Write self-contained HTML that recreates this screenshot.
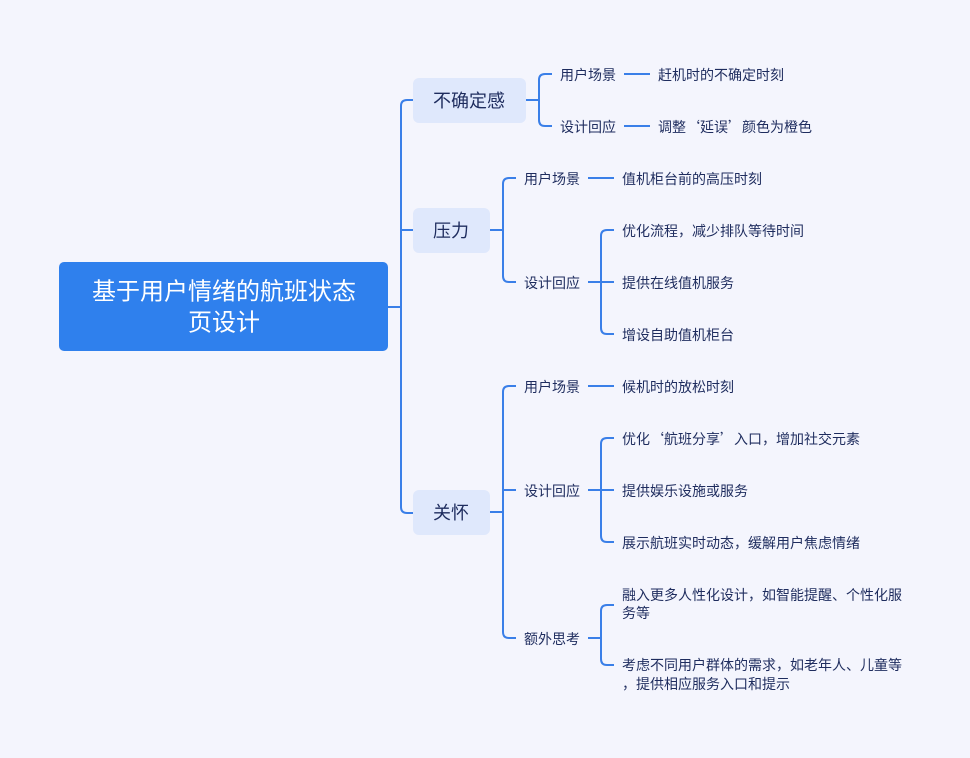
<!DOCTYPE html>
<html><head><meta charset="utf-8"><style>
body{margin:0;background:#f4f5fd;}
svg{display:block}
text{font-family:"Liberation Sans","Noto Sans CJK SC",sans-serif;fill:#1e2c5e;dominant-baseline:central}
.s{font-size:14px}
.q{font-family:"Noto Sans CJK SC",sans-serif}
</style></head><body>
<svg width="970" height="758" viewBox="0 0 970 758">
<rect width="970" height="758" fill="#f4f5fd"/>
<g fill="none" stroke="#3a7fe8" stroke-width="2">
<path d="M388 307H401M401 230H413M407 100H413M407 513H413"/>
<path d="M407 100Q401 100 401 106V507Q401 513 407 513"/>
<path d="M526 100H539M545 74Q539 74 539 80V120Q539 126 545 126H552M545 74H552"/>
<path d="M624 74H650M624 126H650"/>
<path d="M490 230H503M509 178Q503 178 503 184V276Q503 282 509 282H516M509 178H516"/>
<path d="M588 178H614M588 282H614"/>
<path d="M607 230Q601 230 601 236V328Q601 334 607 334H614M607 230H614"/>
<path d="M490 512H503M509 386Q503 386 503 392V632Q503 638 509 638H516M509 386H516M503 490H516"/>
<path d="M588 386H614M588 490H614"/>
<path d="M607 438Q601 438 601 444V536Q601 542 607 542H614M607 438H614"/>
<path d="M588 638H601M607 605Q601 605 601 611V659Q601 665 607 665H614M607 605H614"/>
</g>
<rect x="59" y="262" width="329" height="89" rx="5" fill="#2f80ed"/>
<text x="224" y="292" text-anchor="middle" style="font-size:24px;fill:#fff">基于用户情绪的航班状态</text>
<text x="224" y="323" text-anchor="middle" style="font-size:24px;fill:#fff">页设计</text>
<rect x="413" y="78" width="113" height="45" rx="6" fill="#dfe8fc"/>
<text x="469" y="101" text-anchor="middle" style="font-size:18px">不确定感</text>
<rect x="413" y="208" width="77" height="45" rx="6" fill="#dfe8fc"/>
<text x="451" y="231" text-anchor="middle" style="font-size:18px">压力</text>
<rect x="413" y="490" width="77" height="45" rx="6" fill="#dfe8fc"/>
<text x="451" y="513" text-anchor="middle" style="font-size:18px">关怀</text>
<text class="s" x="560" y="75">用户场景</text>
<text class="s" x="560" y="127">设计回应</text>
<text class="s" x="658" y="75">赶机时的不确定时刻</text>
<text class="s q" x="658" y="127">调整‘延误’颜色为橙色</text>
<text class="s" x="524" y="179">用户场景</text>
<text class="s" x="524" y="283">设计回应</text>
<text class="s" x="622" y="179">值机柜台前的高压时刻</text>
<text class="s" x="622" y="231">优化流程，减少排队等待时间</text>
<text class="s" x="622" y="283">提供在线值机服务</text>
<text class="s" x="622" y="335">增设自助值机柜台</text>
<text class="s" x="524" y="387">用户场景</text>
<text class="s" x="524" y="491">设计回应</text>
<text class="s" x="524" y="639">额外思考</text>
<text class="s" x="622" y="387">候机时的放松时刻</text>
<text class="s q" x="622" y="439">优化‘航班分享’入口，增加社交元素</text>
<text class="s" x="622" y="491">提供娱乐设施或服务</text>
<text class="s" x="622" y="543">展示航班实时动态，缓解用户焦虑情绪</text>
<text class="s" x="622" y="595">融入更多人性化设计，如智能提醒、个性化服</text>
<text class="s" x="622" y="613">务等</text>
<text class="s" x="622" y="665">考虑不同用户群体的需求，如老年人、儿童等</text>
<text class="s" x="622" y="684">，提供相应服务入口和提示</text>
</svg>
</body></html>
